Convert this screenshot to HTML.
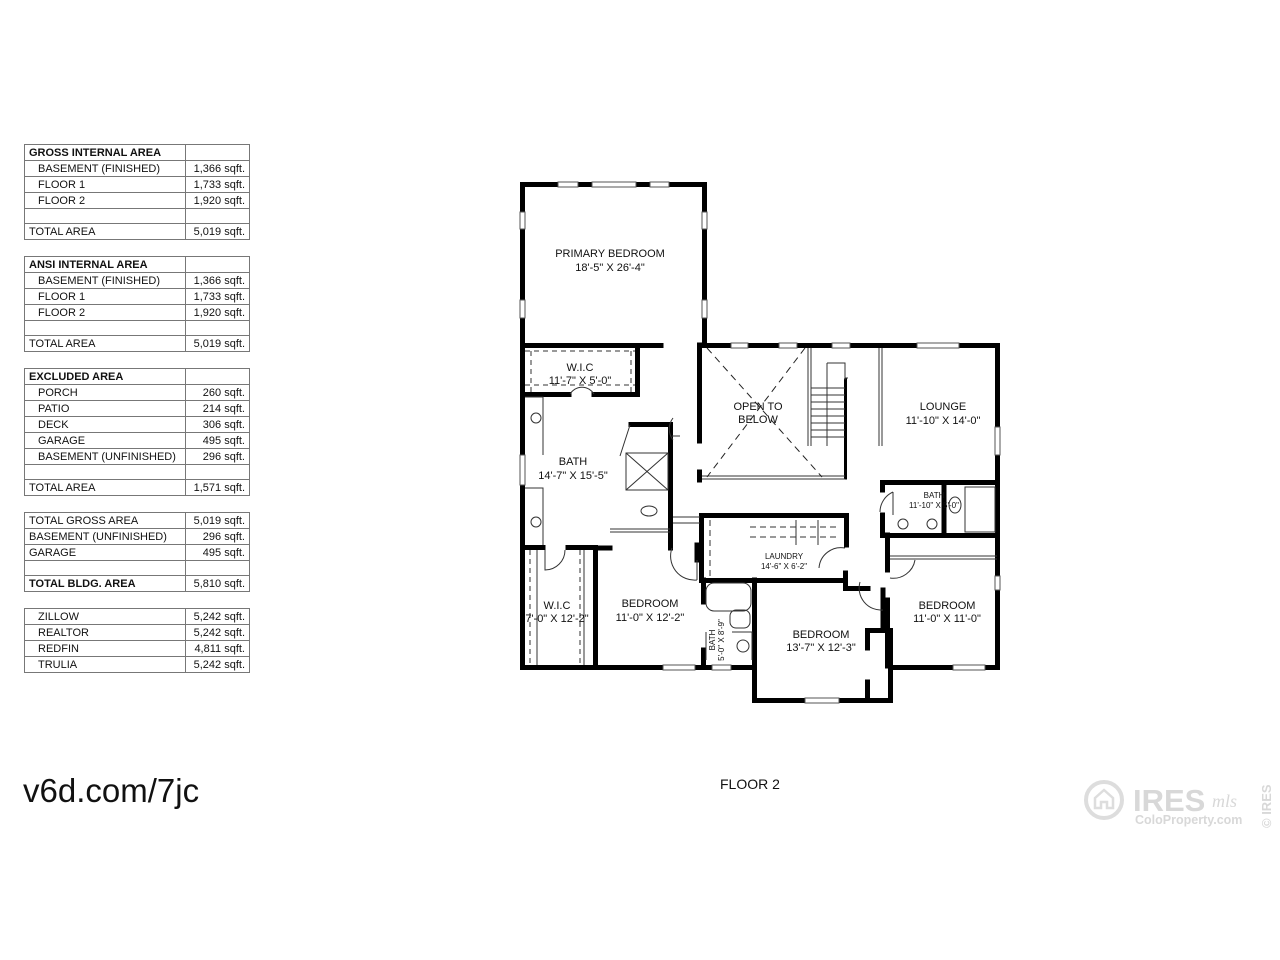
<!DOCTYPE html>
<html><head><meta charset="utf-8"><style>
html,body{margin:0;padding:0;background:#fff;}
body{width:1280px;height:960px;position:relative;overflow:hidden;font-family:"Liberation Sans",sans-serif;}
table{position:absolute;left:24px;width:225px;table-layout:fixed;border-collapse:collapse;font-size:11px;color:#111;}
td{border:1px solid #777;height:15px;padding:1px 4px 0 4px;line-height:14px;white-space:nowrap;box-sizing:border-box;overflow:hidden;}
col.c1{width:161px;}
col.c2{width:64px;}
td.b{text-align:right;}
td.i{padding-left:13px;}
b{font-weight:bold;}
</style></head><body>

<table style="top:144px"><colgroup><col class="c1"><col class="c2"></colgroup><tr><td><b>GROSS INTERNAL AREA</b></td><td class="b"></td></tr>
<tr><td class="i">BASEMENT (FINISHED)</td><td class="b">1,366 sqft.</td></tr>
<tr><td class="i">FLOOR 1</td><td class="b">1,733 sqft.</td></tr>
<tr><td class="i">FLOOR 2</td><td class="b">1,920 sqft.</td></tr>
<tr><td></td><td class="b"></td></tr>
<tr><td>TOTAL AREA</td><td class="b">5,019 sqft.</td></tr></table>

<table style="top:256px"><colgroup><col class="c1"><col class="c2"></colgroup><tr><td><b>ANSI INTERNAL AREA</b></td><td class="b"></td></tr>
<tr><td class="i">BASEMENT (FINISHED)</td><td class="b">1,366 sqft.</td></tr>
<tr><td class="i">FLOOR 1</td><td class="b">1,733 sqft.</td></tr>
<tr><td class="i">FLOOR 2</td><td class="b">1,920 sqft.</td></tr>
<tr><td></td><td class="b"></td></tr>
<tr><td>TOTAL AREA</td><td class="b">5,019 sqft.</td></tr></table>

<table style="top:368px"><colgroup><col class="c1"><col class="c2"></colgroup><tr><td><b>EXCLUDED AREA</b></td><td class="b"></td></tr>
<tr><td class="i">PORCH</td><td class="b">260 sqft.</td></tr>
<tr><td class="i">PATIO</td><td class="b">214 sqft.</td></tr>
<tr><td class="i">DECK</td><td class="b">306 sqft.</td></tr>
<tr><td class="i">GARAGE</td><td class="b">495 sqft.</td></tr>
<tr><td class="i">BASEMENT (UNFINISHED)</td><td class="b">296 sqft.</td></tr>
<tr><td></td><td class="b"></td></tr>
<tr><td>TOTAL AREA</td><td class="b">1,571 sqft.</td></tr></table>

<table style="top:512px"><colgroup><col class="c1"><col class="c2"></colgroup><tr><td>TOTAL GROSS AREA</td><td class="b">5,019 sqft.</td></tr>
<tr><td>BASEMENT (UNFINISHED)</td><td class="b">296 sqft.</td></tr>
<tr><td>GARAGE</td><td class="b">495 sqft.</td></tr>
<tr><td></td><td class="b"></td></tr>
<tr><td><b>TOTAL BLDG. AREA</b></td><td class="b">5,810 sqft.</td></tr></table>

<table style="top:608px"><colgroup><col class="c1"><col class="c2"></colgroup><tr><td class="i">ZILLOW</td><td class="b">5,242 sqft.</td></tr>
<tr><td class="i">REALTOR</td><td class="b">5,242 sqft.</td></tr>
<tr><td class="i">REDFIN</td><td class="b">4,811 sqft.</td></tr>
<tr><td class="i">TRULIA</td><td class="b">5,242 sqft.</td></tr></table>

<div style="position:absolute;left:23px;top:772px;font-size:33px;color:#111;">v6d.com/7jc</div>
<div style="position:absolute;left:720px;top:776px;font-size:14px;color:#111;">FLOOR 2</div>

<svg width="1280" height="960" style="position:absolute;left:0;top:0" font-family="Liberation Sans, sans-serif">
<g stroke="#000" stroke-width="5" fill="none" stroke-linecap="square">
<path d="M522.5,345 V184.5 H704.5 V345"/>
<path d="M522.5,345 V667.5 H754.5 V700.5 H890.5 V667.5 H997.5 V345.5 H699.5"/>
<path d="M522.5,345.5 H661"/>
<path d="M699.5,345 V441 M699.5,472 V480"/>
<path d="M637.5,348 V394.5 H594 M569,394.5 H525"/>
<path d="M845.5,380 V478" stroke-width="3"/>
<path d="M631,424.5 H670.5 V520"/>
<path d="M525,547.5 H543 M568,547.5 H595.5 V665 M595.5,548 H610"/>
<path d="M670.5,520 V548 M697,545 V560 M701.5,515.5 V580.5 H845.5 M701.5,515.5 H846.5 V545 M845.5,573 V588.5 H868"/>
<path d="M703.5,580 V602 M703.5,650 V665"/>
<path d="M754.5,580 V667"/>
<path d="M883,590 V630 M867.5,630.5 H890.5 V665 M867.5,630.5 V648 M867.5,682 V698"/>
<path d="M882.5,482.5 H997 M882.5,482.5 V490 M882.5,515 V535.5 H997 M944,485 V535 M887.5,535 V570 M887.5,600 V666"/>
</g>
<g stroke="#333" stroke-width="1" fill="none">
<path d="M702,476 H845 M702,479 H845"/>
<path d="M808,348 V446 M811,348 V446 M879,348 V446 M882,348 V446"/>
<path d="M827,363 H845 V380 M827,363 V446 M845,378 H848"/>
<path d="M811,388 H845 M811,395 H845 M811,402 H845 M811,409 H845 M811,416 H845 M811,423 H845 M811,430 H845 M811,437 H845"/>
<path d="M890,556 H997 M890,559 H997"/>
<path d="M610,529 H670 M610,532 H670"/>
<path d="M525,351 H635 M525,385 H635 M531,351 V393 M631,351 V393" stroke-dasharray="5,4"/>
<path d="M537,550 V665 M584,550 V665" />
<path d="M530,550 V665 M580,550 V665" stroke-dasharray="5,4"/>
<path d="M710,520 V578" stroke-dasharray="6,4"/>
<path d="M750,527 H840 M750,537 H840" stroke-dasharray="6,4"/>
<path d="M796,520 V545 M818,520 V545"/>
<path d="M673,517 H700 M673,523 H700"/>
<path d="M626,453 H668 V490 H626 Z M626,453 L668,490 M668,453 L626,490" />
<path d="M620,456 L630,425"/>
<path d="M525,397 H543 V455 M525,488 H543 V545"/>
<path d="M980,487 H995 V532 H965 V487 Z"/>
<rect x="706" y="583" width="45" height="28" rx="8"/>
<rect x="730" y="610" width="20" height="18" rx="6"/>
<path d="M706,632 V660 M732,632 H752 V660"/>
<circle cx="536" cy="418" r="5"/><circle cx="536" cy="522" r="5"/>
<circle cx="903" cy="524" r="5"/><circle cx="932" cy="524" r="5"/><circle cx="743" cy="646" r="6"/>
<ellipse cx="649" cy="511" rx="8" ry="5"/>
<ellipse cx="955" cy="505" rx="6" ry="8"/>
<path d="M673,418 A 18 18 0 0 0 673,440 M672,436 H680"/>
<path d="M570,394 A 14 14 0 0 1 594,394"/>
<path d="M545,550 V570 A 20 20 0 0 0 565,550"/>
<path d="M893,492 A 22 22 0 0 0 880,512 M893,492 V515"/>
<path d="M860,582 A 22 22 0 0 0 883,610"/>
<path d="M819,568 A 22 22 0 0 1 845,548"/>
<path d="M672,548 A 24 24 0 0 0 697,580 M697,560 V580"/>
<path d="M890,578 A 22 22 0 0 0 915,560"/>
</g>
<g stroke="#222" stroke-width="1" stroke-dasharray="7,5">
<path d="M707,348 L822,477 M805,348 L707,477"/>
</g>
<g fill="#fff" stroke="#555" stroke-width="1">
<rect x="558" y="182" width="20" height="5"/><rect x="592" y="182" width="44" height="5"/><rect x="650" y="182" width="19" height="5"/>
<rect x="520" y="212" width="5" height="17"/><rect x="520" y="300" width="5" height="18"/>
<rect x="702" y="212" width="5" height="17"/><rect x="702" y="300" width="5" height="18"/>
<rect x="520" y="455" width="5" height="30"/>
<rect x="731" y="343" width="17" height="5"/><rect x="779" y="343" width="18" height="5"/><rect x="832" y="343" width="18" height="5"/><rect x="917" y="343" width="42" height="5"/>
<rect x="995" y="427" width="5" height="28"/><rect x="995" y="576" width="5" height="14"/>
<rect x="663" y="665" width="32" height="5"/><rect x="712" y="665" width="19" height="5"/><rect x="805" y="698" width="34" height="5"/><rect x="953" y="665" width="32" height="5"/>
</g>
<g fill="#111" font-size="11" text-anchor="middle">
<text x="610" y="257">PRIMARY BEDROOM</text><text x="610" y="271">18'-5" X 26'-4"</text>
<text x="580" y="371">W.I.C</text><text x="580" y="384">11'-7" X 5'-0"</text>
<text x="573" y="465">BATH</text><text x="573" y="479">14'-7" X 15'-5"</text>
<text x="758" y="410">OPEN TO</text><text x="758" y="423">BELOW</text>
<text x="943" y="410">LOUNGE</text><text x="943" y="424">11'-10" X 14'-0"</text>
<text x="557" y="609">W.I.C</text><text x="557" y="622">7'-0" X 12'-2"</text>
<text x="650" y="607">BEDROOM</text><text x="650" y="621">11'-0" X 12'-2"</text>
<text x="821" y="638">BEDROOM</text><text x="821" y="651">13'-7" X 12'-3"</text>
<text x="947" y="609">BEDROOM</text><text x="947" y="622">11'-0" X 11'-0"</text>
<text x="784" y="559" font-size="8">LAUNDRY</text><text x="784" y="569" font-size="8">14'-6" X 6'-2"</text>
<text x="934" y="498" font-size="8">BATH</text><text x="934" y="508" font-size="8">11'-10" X 5'-0"</text>
<text transform="translate(715,640) rotate(-90)" font-size="8">BATH</text>
<text transform="translate(724,640) rotate(-90)" font-size="8">5'-0" X 8'-9"</text>
</g>
<g fill="none" stroke="#ddd">
<circle cx="1104" cy="800" r="18" stroke-width="4"/>
<path d="M1095,808 V798 L1104,790 L1113,798 V808 H1107 V802 H1101 V808 Z" stroke-width="2.5"/>
</g>
<g fill="#d8d8d8">
<text x="1133" y="811" font-size="31" font-weight="bold">IRES</text>
<text x="1212" y="807" font-size="18" font-style="italic" font-family="Liberation Serif, serif">mls</text>
<text x="1135" y="824" font-size="12.5" font-weight="bold">ColoProperty.com</text>
<text transform="translate(1271,828) rotate(-90)" font-size="13" font-weight="bold">© IRES</text>
</g>
</svg>
</body></html>
